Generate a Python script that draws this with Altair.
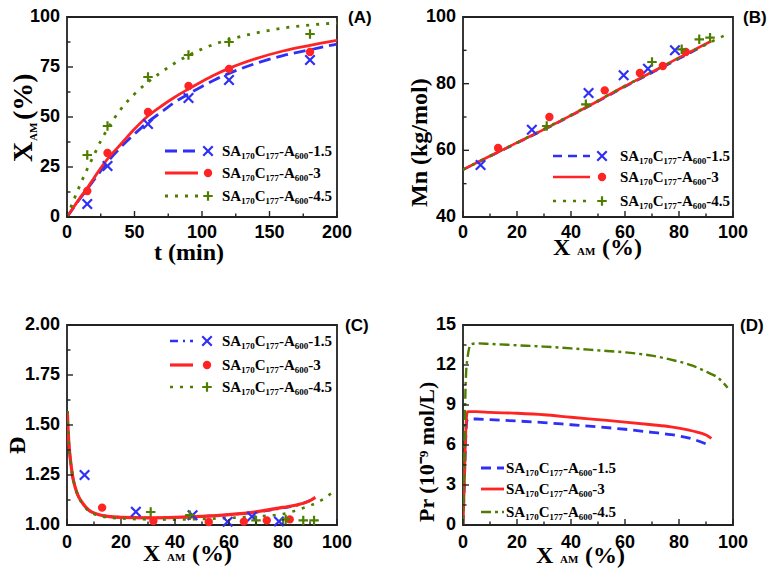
import altair as alt
import pandas as pd

BLUE = "#2f2ff5"
RED = "#ff2424"
GREEN = "#4f7d00"
SERIF = "Liberation Serif"
SANS = "Liberation Sans"
W, H = 270, 200

labels = ["SA₁₇₀C₁₇₇-A₆₀₀-1.5", "SA₁₇₀C₁₇₇-A₆₀₀-3", "SA₁₇₀C₁₇₇-A₆₀₀-4.5"]

# ---------------- Panel A : conversion vs time ----------------
a_xticks = [0, 50, 100, 150, 200]
a_xtick_labels = ["0", "50", "100", "150", "200"]
a_xminor = [25, 75, 125, 175]
a_yticks = [0, 25, 50, 75, 100]
a_ytick_labels = ["0", "25", "50", "75", "100"]
a_yminor = [12.5, 37.5, 62.5, 87.5]
a_pt_t = [15, 30, 60, 90, 120, 180]
a_pt_15 = [6.5, 25.5, 46.5, 59.5, 68.5, 78.5]
a_pt_3 = [13, 32, 52.5, 65.5, 74, 82.5]
a_pt_45 = [31, 45.5, 70, 81, 87.5, 91.5]
a_cv_t = [0, 5, 10, 15, 20, 25, 30, 40, 50, 60, 70, 80, 90, 100, 110, 120, 140, 160, 180, 200]
a_cv_15 = [0, 4.8, 9.5, 14, 18.5, 23, 27.5, 35, 41.5, 47.5, 52.5, 57.5, 61.5, 65.3, 68.8, 71.8, 76.8, 80.7, 83.6, 86.5]
a_cv_3 = [0, 5, 10, 14.5, 19.5, 24.5, 29, 36.5, 44, 50.5, 55.5, 60, 64, 67.8, 71.3, 74.3, 79.2, 83, 85.8, 88.3]
a_cv_45 = [0, 8.5, 16.5, 24, 31, 38, 44, 54, 61.5, 67.5, 72.5, 77, 80.8, 84, 86.6, 88.7, 92, 94.5, 96, 97]

# shared conversion axis (B, C, D)
x_ticks = [0, 20, 40, 60, 80, 100]
x_tick_labels = ["0", "20", "40", "60", "80", "100"]
x_minor = [10, 30, 50, 70, 90]

# ---------------- Panel B : Mn vs conversion ----------------
b_yticks = [40, 60, 80, 100]
b_ytick_labels = ["40", "60", "80", "100"]
b_yminor = [50, 70, 90]
b_pt_x15 = [6.5, 25.5, 46.5, 59.5, 68.5, 78.5]
b_pt_y15 = [55.6, 66.2, 77.2, 82.5, 84.5, 90]
b_pt_x3 = [13, 32, 52.5, 65.5, 74, 82.5]
b_pt_y3 = [60.7, 70, 78, 83.2, 85.3, 89.5]
b_pt_x45 = [31, 45.5, 70, 81, 87.5, 91.5]
b_pt_y45 = [67.3, 73.8, 86.5, 90.3, 93.3, 93.8]
b_cv_x15 = [0, 10, 20, 30, 40, 50, 60, 70, 80, 90]
b_cv_y15 = [54.2, 58.2, 62.2, 66.2, 70.4, 74.7, 79.1, 83.3, 87.5, 91.8]
b_cv_x3 = [0, 10, 20, 30, 40, 50, 60, 70, 80, 92]
b_cv_y3 = [54.2, 58.3, 62.3, 66.3, 70.5, 74.8, 79.3, 83.5, 87.8, 92.8]
b_cv_x45 = [0, 10, 20, 30, 40, 50, 60, 70, 80, 90, 97]
b_cv_y45 = [54.2, 58.3, 62.3, 66.4, 70.6, 74.9, 79.3, 83.5, 87.7, 91.8, 94.5]

# ---------------- Panel C : dispersity vs conversion ----------------
c_yticks = [1.0, 1.25, 1.5, 1.75, 2.0]
c_ytick_labels = ["1.00", "1.25", "1.50", "1.75", "2.00"]
c_yminor = [1.125, 1.375, 1.625, 1.875]
c_pt_x15 = [6.5, 25.5, 46.5, 59.5, 68.5, 78.5]
c_pt_y15 = [1.25, 1.066, 1.049, 1.016, 1.042, 1.018]
c_pt_x3 = [13, 32, 52.5, 65.5, 74, 82.5]
c_pt_y3 = [1.087, 1.02, 1.015, 1.017, 1.023, 1.028]
c_pt_x45 = [31, 45.5, 70, 81, 87.5, 91.5]
c_pt_y45 = [1.065, 1.049, 1.023, 1.028, 1.023, 1.023]
c_cv_x15 = [0.1, 0.5, 1, 1.5, 2, 3, 4, 5, 6, 8, 11, 15, 20, 30, 40, 50, 60, 70, 80, 85, 91]
c_cv_y15 = [1.57, 1.45, 1.36, 1.3, 1.25, 1.19, 1.15, 1.125, 1.105, 1.075, 1.055, 1.044, 1.039, 1.036, 1.038, 1.043, 1.051, 1.064, 1.085, 1.098, 1.128]
c_cv_x3 = [0.1, 0.5, 1, 1.5, 2, 3, 4, 5, 6, 8, 11, 15, 20, 30, 40, 50, 60, 70, 80, 85, 90, 92]
c_cv_y3 = [1.57, 1.45, 1.36, 1.3, 1.25, 1.19, 1.15, 1.125, 1.105, 1.075, 1.055, 1.043, 1.038, 1.036, 1.038, 1.043, 1.052, 1.066, 1.088, 1.1, 1.122, 1.138]
c_cv_x45 = [0.1, 0.5, 1, 1.5, 2, 3, 4, 5, 6, 8, 11, 15, 20, 30, 40, 50, 60, 70, 80, 86, 90, 95, 98]
c_cv_y45 = [1.57, 1.45, 1.36, 1.3, 1.25, 1.19, 1.15, 1.12, 1.1, 1.07, 1.05, 1.038, 1.033, 1.028, 1.027, 1.03, 1.035, 1.043, 1.055, 1.078, 1.097, 1.13, 1.16]

# ---------------- Panel D : radical concentration vs conversion ----------------
d_yticks = [0, 3, 6, 9, 12, 15]
d_ytick_labels = ["0", "3", "6", "9", "12", "15"]
d_yminor = [1.5, 4.5, 7.5, 10.5, 13.5]
d_cv_x15 = [0, 0.4, 0.8, 1.2, 1.6, 2, 5, 10, 20, 30, 40, 50, 60, 70, 77, 85, 91]
d_cv_y15 = [0, 2.5, 5.2, 7.3, 7.9, 7.95, 7.95, 7.9, 7.8, 7.68, 7.52, 7.36, 7.18, 6.95, 6.78, 6.45, 6.0]
d_cv_x3 = [0, 0.4, 0.8, 1.2, 1.6, 2, 5, 10, 20, 30, 40, 50, 60, 70, 77, 85, 90, 92]
d_cv_y3 = [0, 2.5, 5.5, 7.8, 8.45, 8.5, 8.5, 8.45, 8.38, 8.27, 8.08, 7.9, 7.72, 7.52, 7.36, 7.05, 6.75, 6.5]
d_cv_x45 = [0, 0.3, 0.6, 0.9, 1.2, 1.6, 2.2, 3, 5, 10, 20, 30, 40, 50, 60, 70, 77, 85, 90, 95, 98]
d_cv_y45 = [0, 2.5, 6.5, 10, 11.6, 12.4, 13.2, 13.55, 13.62, 13.58, 13.48, 13.38, 13.25, 13.1, 12.95, 12.7, 12.4, 11.95, 11.5, 10.95, 10.3]

ONE = pd.DataFrame({"k": [0]})
CROSS_X = "M-1,-1L1,1M-1,1L1,-1"
PLUS = "M-1,0L1,0M0,-1L0,1"


def txt(s, x, y, size, font=SERIF, angle=0, align="left", baseline="alphabetic", weight="bold"):
    return alt.Chart(ONE).mark_text(text=s, font=font, fontSize=size, fontWeight=weight,
                                    angle=angle, align=align, baseline=baseline,
                                    color="#000").encode(x=alt.value(x), y=alt.value(y))


def tick_rules(xs, ys, vals, length, ch):
    df = pd.DataFrame({"v": vals})
    if ch == "x":
        return alt.Chart(df).mark_rule(color="#222", strokeWidth=1.4).encode(
            x=alt.X("v:Q", scale=xs, axis=None), y=alt.value(H), y2=alt.value(H - length))
    return alt.Chart(df).mark_rule(color="#222", strokeWidth=1.4).encode(
        y=alt.Y("v:Q", scale=ys, axis=None), x=alt.value(0), x2=alt.value(length))


def tick_text(xs, ys, vals, labs, ch, off):
    df = pd.DataFrame({"v": vals, "t": labs})
    if ch == "x":
        return alt.Chart(df).mark_text(font=SANS, fontSize=18, fontWeight="bold", color="#000",
                                       align="center", baseline="alphabetic").encode(
            x=alt.X("v:Q", scale=xs, axis=None), y=alt.value(H + off), text="t:N")
    return alt.Chart(df).mark_text(font=SANS, fontSize=18, fontWeight="bold", color="#000",
                                   align="right", baseline="middle").encode(
        y=alt.Y("v:Q", scale=ys, axis=None), x=alt.value(-off), text="t:N")


def panel(curves, points, xdom, ydom, xt, xtl, xm, yt, ytl, ym, legend, extras, xoff=21):
    xs = alt.Scale(domain=xdom, nice=False, zero=False)
    ys = alt.Scale(domain=ydom, nice=False, zero=False)
    main = []
    for (xv, yv, color, dash, sw) in curves:
        df = pd.DataFrame({"x": xv, "y": yv})
        mk = dict(color=color, strokeWidth=sw, interpolate="monotone", clip=True)
        if dash:
            mk["strokeDash"] = dash
        main.append(alt.Chart(df).mark_line(**mk).encode(
            x=alt.X("x:Q", scale=xs, axis=None), y=alt.Y("y:Q", scale=ys, axis=None)))
    for (xv, yv, color, shape, filled) in points:
        df = pd.DataFrame({"x": xv, "y": yv})
        if filled:
            m = alt.Chart(df).mark_point(shape="circle", filled=True, fill=color, size=70, opacity=1)
        else:
            m = alt.Chart(df).mark_point(shape=shape, filled=False, stroke=color, strokeWidth=2.2,
                                         size=90, opacity=1)
        main.append(m.encode(x=alt.X("x:Q", scale=xs, axis=None), y=alt.Y("y:Q", scale=ys, axis=None)))
    main.append(tick_rules(xs, ys, xt, 6, "x"))
    main.append(tick_rules(xs, ys, xm, 3.5, "x"))
    main.append(tick_rules(xs, ys, yt, 6, "y"))
    main.append(tick_rules(xs, ys, ym, 3.5, "y"))
    main.append(tick_text(xs, ys, xt, xtl, "x", xoff))
    main.append(tick_text(xs, ys, yt, ytl, "y", 7))
    # legend
    lx0, lx1, sx, tx, rows, items = legend
    for (color, dash, sw, sym, filled), ry, lab in zip(items, rows, labels):
        mk = dict(color=color, strokeWidth=sw)
        if dash:
            mk["strokeDash"] = dash
        main.append(alt.Chart(ONE).mark_rule(**mk).encode(
            x=alt.value(lx0), x2=alt.value(lx1), y=alt.value(ry)))
        if sym is not None:
            if filled:
                main.append(alt.Chart(ONE).mark_point(shape="circle", filled=True, fill=color,
                                                      size=70, opacity=1).encode(
                    x=alt.value(sx), y=alt.value(ry)))
            else:
                main.append(alt.Chart(ONE).mark_point(shape=sym, filled=False, stroke=color,
                                                      strokeWidth=2.2, size=90, opacity=1).encode(
                    x=alt.value(sx), y=alt.value(ry)))
        main.append(txt(lab, tx, ry + 5, 15))
    main.extend(extras)
    return alt.layer(*main).properties(width=W, height=H)


# ---- Panel A ----
pA = panel(
    curves=[(a_cv_t, a_cv_15, BLUE, [12, 6], 2.8), (a_cv_t, a_cv_3, RED, None, 2.8),
            (a_cv_t, a_cv_45, GREEN, [3, 7], 2.8)],
    points=[(a_pt_t, a_pt_15, BLUE, CROSS_X, False), (a_pt_t, a_pt_3, RED, "circle", True),
            (a_pt_t, a_pt_45, GREEN, PLUS, False)],
    xdom=[0, 200], ydom=[0, 100],
    xt=a_xticks, xtl=a_xtick_labels, xm=a_xminor, yt=a_yticks, ytl=a_ytick_labels, ym=a_yminor,
    legend=(98, 131, 141, 155, [134, 156, 179],
            [(BLUE, [12, 6], 2.8, CROSS_X, False), (RED, None, 2.8, "circle", True),
             (GREEN, [3, 7], 2.8, PLUS, False)]),
    extras=[txt("(A)", 281, 1, 17, font=SANS, baseline="middle"),
            txt("t (min)", 87, 243, 24),
            txt("X", -35, 145, 28, angle=270),
            txt("AM", -30, 124, 11, angle=270),
            txt("(%)", -35, 103, 28, angle=270)])

# ---- Panel B ----
pB = panel(
    curves=[(b_cv_x15, b_cv_y15, BLUE, [9, 6], 2.6), (b_cv_x3, b_cv_y3, RED, None, 2.6),
            (b_cv_x45, b_cv_y45, GREEN, [3, 7], 2.6)],
    points=[(b_pt_x15, b_pt_y15, BLUE, CROSS_X, False), (b_pt_x3, b_pt_y3, RED, "circle", True),
            (b_pt_x45, b_pt_y45, GREEN, PLUS, False)],
    xdom=[0, 100], ydom=[40, 100],
    xt=x_ticks, xtl=x_tick_labels, xm=x_minor, yt=b_yticks, ytl=b_ytick_labels, ym=b_yminor,
    legend=(90, 127, 139, 157, [139, 160, 184],
            [(BLUE, [9, 6], 2.6, CROSS_X, False), (RED, None, 2.6, "circle", True),
             (GREEN, [3, 7], 2.6, PLUS, False)]),
    extras=[txt("(B)", 280, 1, 17, font=SANS, baseline="middle"),
            txt("X", 90, 238, 24),
            txt("AM", 114, 238, 11),
            txt("(%)", 139, 238, 24),
            txt("Mn (kg/mol)", -36, 190, 24, angle=270)])

# ---- Panel C ----
pC = panel(
    curves=[(c_cv_x15, c_cv_y15, BLUE, [8, 5, 2, 5], 2.6), (c_cv_x3, c_cv_y3, RED, None, 3.2),
            (c_cv_x45, c_cv_y45, GREEN, [3, 7], 2.6)],
    points=[(c_pt_x15, c_pt_y15, BLUE, CROSS_X, False), (c_pt_x3, c_pt_y3, RED, "circle", True),
            (c_pt_x45, c_pt_y45, GREEN, PLUS, False)],
    xdom=[0, 100], ydom=[1.0, 2.0],
    xt=x_ticks, xtl=x_tick_labels, xm=x_minor, yt=c_yticks, ytl=c_ytick_labels, ym=c_yminor,
    legend=(103, 126, 140, 155, [16, 40, 62],
            [(BLUE, [8, 5, 2, 5], 2.6, CROSS_X, False), (RED, None, 3.2, "circle", True),
             (GREEN, [3, 7], 2.6, PLUS, False)]),
    extras=[txt("(C)", 278, 1, 17, font=SANS, baseline="middle"),
            txt("X", 76, 236, 24),
            txt("AM", 100, 236, 11),
            txt("(%)", 125, 236, 24),
            txt("Đ", -42, 129, 24, angle=270)],
    xoff=23)

# ---- Panel D ----
pD = panel(
    curves=[(d_cv_x15, d_cv_y15, BLUE, [10, 6], 2.8), (d_cv_x3, d_cv_y3, RED, None, 2.8),
            (d_cv_x45, d_cv_y45, GREEN, [10, 4, 3, 4], 2.4)],
    points=[],
    xdom=[0, 100], ydom=[0, 15],
    xt=x_ticks, xtl=x_tick_labels, xm=x_minor, yt=d_yticks, ytl=d_ytick_labels, ym=d_yminor,
    legend=(18, 41, 0, 43, [143, 164, 187],
            [(BLUE, [10, 6], 2.8, None, False), (RED, None, 2.8, None, False),
             (GREEN, [10, 4, 3, 4], 2.4, None, False)]),
    extras=[txt("(D)", 277, 1, 17, font=SANS, baseline="middle"),
            txt("X", 73, 238, 24),
            txt("AM", 97, 238, 11),
            txt("(%)", 122, 238, 24),
            txt("Pr (10⁻⁹ mol/L)", -29, 197, 22, angle=270)],
    xoff=23)

chart = alt.concat(pA, pB, pC, pD, columns=2, spacing={"row": 108, "column": 126},
                   bounds="flush").configure_view(
    stroke="#222", strokeWidth=1.8).properties(padding={"left": -3, "top": -1, "right": 0, "bottom": 0},
                                               background="white")

chart.save("out.html", embed_options={"renderer": "svg", "actions": False})
